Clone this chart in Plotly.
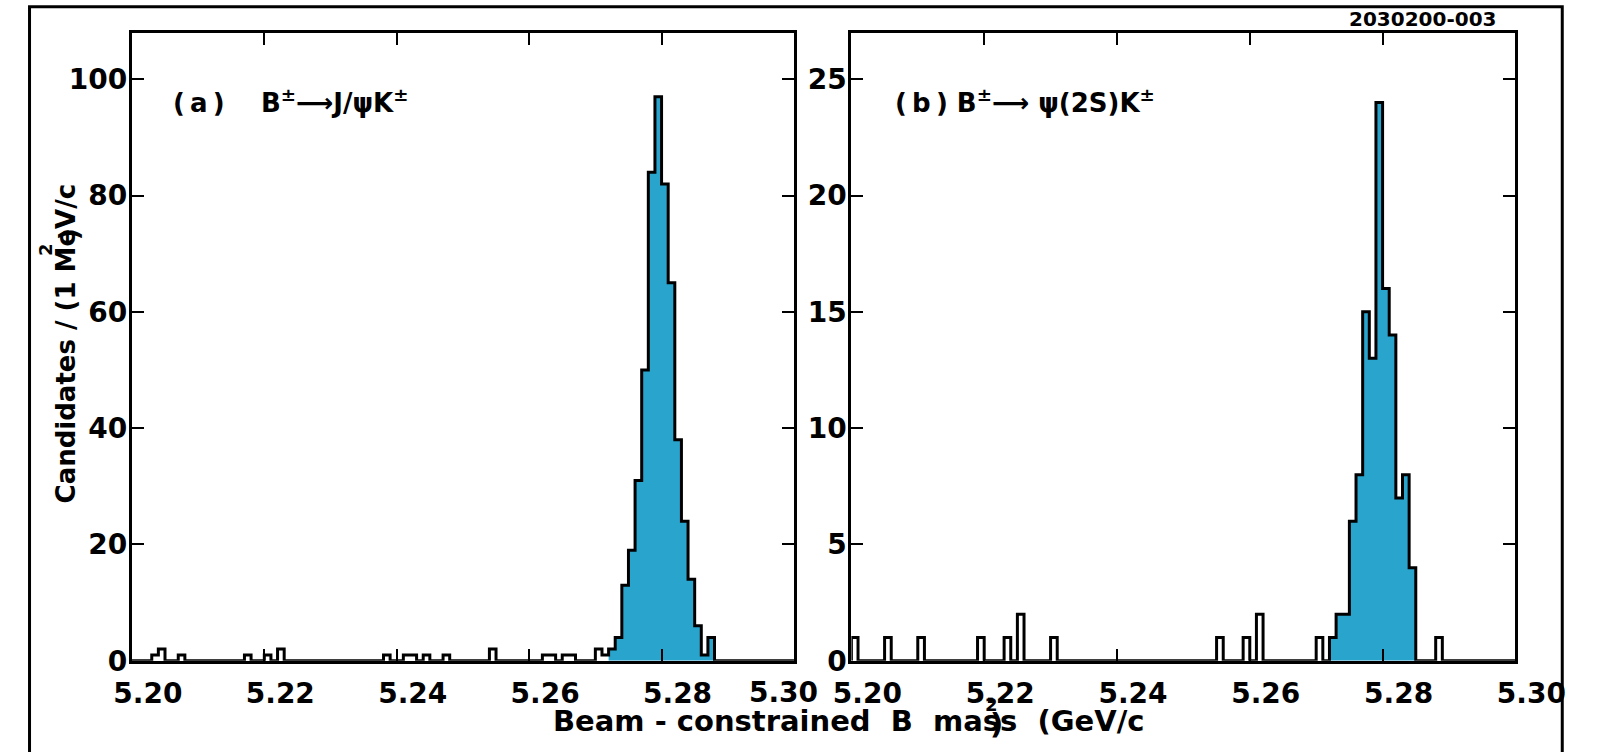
import numpy as np
import plotly.graph_objects as go

# ---- binning: 1 MeV/c^2 bins over 5.20-5.30 GeV/c^2 ----
MASS_MIN = 5.200
MASS_MAX = 5.300
BIN_W = 0.001
SIG_FIRST = 5.272   # first bin of the shaded signal region
SIG_LAST = 5.287    # last bin of the shaded signal region

# ---- panel (a): B± -> J/psi K± ----
a_side_mass = [5.203, 5.204, 5.207, 5.217, 5.220, 5.222, 5.238, 5.241,
               5.242, 5.244, 5.247, 5.254, 5.262, 5.263, 5.265, 5.266,
               5.270, 5.271]
a_side_counts = [1, 2, 1, 1, 1, 2, 1, 1,
                 1, 1, 1, 2, 1, 1, 1, 1,
                 2, 1]
a_sig_counts = [2, 4, 13, 19, 31, 50, 84, 97, 82, 65, 38, 24, 14, 6, 1, 4]

# ---- panel (b): B± -> psi(2S) K± ----
b_side_mass = [5.200, 5.205, 5.210, 5.219, 5.223, 5.225, 5.230, 5.255,
               5.259, 5.261, 5.270, 5.288]
b_side_counts = [1, 1, 1, 1, 1, 2, 1, 1,
                 1, 2, 1, 1]
b_sig_counts = [1, 2, 2, 6, 8, 15, 13, 24, 16, 14, 7, 8, 4, 0, 0, 0]

x_ticks = [5.20, 5.22, 5.24, 5.26, 5.28, 5.30]
x_ticktext = ["5.20", "5.22", "5.24", "5.26", "5.28", "5.30"]
a_yticks = [0, 20, 40, 60, 80, 100]
b_yticks = [0, 5, 10, 15, 20, 25]
a_ymax = 108
b_ymax = 27

FILL = "#29a4cd"
W, H = 1619, 752
FONT = "DejaVu Sans"


def fill_counts(side_mass, side_counts, sig_counts):
    nbins = int(round((MASS_MAX - MASS_MIN) / BIN_W))
    counts = np.zeros(nbins)
    for m, c in zip(side_mass, side_counts):
        counts[int(round((m - MASS_MIN) / BIN_W))] = c
    i0 = int(round((SIG_FIRST - MASS_MIN) / BIN_W))
    counts[i0:i0 + len(sig_counts)] = sig_counts
    return counts


def hist_traces(counts, xa, ya):
    edges = MASS_MIN + BIN_W * np.arange(len(counts) + 1)
    i0 = int(round((SIG_FIRST - MASS_MIN) / BIN_W))
    i1 = int(round((SIG_LAST - MASS_MIN) / BIN_W)) + 1
    # shaded signal region
    fx = list(edges[i0:i1 + 1])
    fy = list(counts[i0:i1]) + [0]
    shade = go.Scatter(x=fx, y=fy, mode="lines", line=dict(width=0, shape="hv"),
                       fill="tozeroy", fillcolor=FILL, hoverinfo="skip",
                       xaxis=xa, yaxis=ya, showlegend=False)
    # outline of the full histogram
    ox = [edges[0]] + list(edges)
    oy = [0] + list(counts) + [0]
    outline = go.Scatter(x=ox, y=oy, mode="lines",
                         line=dict(color="black", width=3, shape="hv"),
                         xaxis=xa, yaxis=ya, showlegend=False)
    return [shade, outline]


a_counts = fill_counts(a_side_mass, a_side_counts, a_sig_counts)
b_counts = fill_counts(b_side_mass, b_side_counts, b_sig_counts)

fig = go.Figure()
for tr in hist_traces(a_counts, "x", "y"):
    fig.add_trace(tr)
for tr in hist_traces(b_counts, "x2", "y2"):
    fig.add_trace(tr)

y_dom = [(H - 676) / H, (H - 33.5) / H]
tickfont = dict(family=FONT, size=28, color="black", weight="bold")
common_x = dict(range=[MASS_MIN, MASS_MAX], ticks="inside", ticklen=12, tickwidth=2,
                tickcolor="black", showline=True, linewidth=3, linecolor="black",
                mirror="ticks", showgrid=False, zeroline=False, tickfont=tickfont,
                ticklabelshift=16, ticklabelstandoff=6)
common_y = dict(ticks="inside", ticklen=12, tickwidth=2, tickcolor="black",
                showline=True, linewidth=3, linecolor="black", mirror="ticks",
                showgrid=False, zeroline=False, tickfont=tickfont, domain=y_dom,
                ticklabelstandoff=-4)

fig.update_layout(
    width=W, height=H,
    margin=dict(l=0, r=0, t=0, b=0),
    paper_bgcolor="white", plot_bgcolor="white",
    showlegend=False,
    xaxis=dict(domain=[118 / W, 810 / W], anchor="y",
               tickvals=x_ticks[:-1], ticktext=x_ticktext[:-1], **common_x),
    yaxis=dict(range=[0, a_ymax], tickvals=a_yticks, anchor="x", **common_y),
    xaxis2=dict(domain=[870 / W, 1564 / W], anchor="y2",
                tickvals=x_ticks, ticktext=x_ticktext, **common_x),
    yaxis2=dict(range=[0, b_ymax], tickvals=b_yticks, anchor="x2", **common_y),
)

bold = dict(family=FONT, color="black", weight="bold")
NB = "\u00a0"
TH = "\u2009"
ann = []
# last label of the left panel, pulled in toward the frame
ann.append(dict(x=x_ticks[-1], y=0, xref="x", yref="y", text=x_ticktext[-1],
                showarrow=False, xanchor="center", yanchor="top", xshift=-10, yshift=-13,
                font=dict(size=28, **bold)))
# panel labels
ann.append(dict(x=159 / W, y=1 - 103 / H, xref="paper", yref="paper",
                text="(" + TH + "a" + TH + ")" + NB * 4 + "B<sup>±</sup>⟶J/ψK<sup>±</sup>",
                showarrow=False, xanchor="left", yanchor="middle",
                font=dict(size=26, **bold)))
ann.append(dict(x=914 / W, y=1 - 103 / H, xref="paper", yref="paper",
                text="(" + TH + "b" + TH + ")" + NB + "B<sup>±</sup>⟶ ψ(2S)K<sup>±</sup>",
                showarrow=False, xanchor="left", yanchor="middle",
                font=dict(size=26, **bold)))
# figure id
ann.append(dict(x=1546 / W, y=1 - 19 / H, xref="paper", yref="paper",
                text="2030200-003", showarrow=False, xanchor="right", yanchor="middle",
                font=dict(size=20, **bold)))
# y-axis title
ann.append(dict(x=49 / W, y=1 - 351.5 / H, xref="paper", yref="paper",
                text="Candidates / (1 MeV/c", textangle=-90, showarrow=False,
                xanchor="center", yanchor="middle", font=dict(size=26, **bold)))
ann.append(dict(x=27 / W, y=1 - 255 / H, xref="paper", yref="paper",
                text="2", textangle=-90, showarrow=False,
                xanchor="center", yanchor="middle", font=dict(size=18, **bold)))
ann.append(dict(x=52 / W, y=1 - 240 / H, xref="paper", yref="paper",
                text=")", textangle=-90, showarrow=False,
                xanchor="center", yanchor="middle", font=dict(size=26, **bold)))
# x-axis title
ann.append(dict(x=556 / W, y=1 - 738 / H, xref="paper", yref="paper",
                text="Beam - constrained" + NB * 2 + "B" + NB * 2 + "mass" + NB * 2 + "(GeV/c",
                showarrow=False, xanchor="left", yanchor="middle",
                font=dict(size=29, **bold)))
ann.append(dict(x=1016 / W, y=1 - 721 / H, xref="paper", yref="paper",
                text="2", showarrow=False, xanchor="center", yanchor="middle",
                font=dict(size=18, **bold)))
ann.append(dict(x=1022 / W, y=1 - 741 / H, xref="paper", yref="paper",
                text=")", showarrow=False, xanchor="center", yanchor="middle",
                font=dict(size=29, **bold)))
fig.update_layout(annotations=ann)

# outer frame around the whole figure
fig.add_shape(type="rect", xref="paper", yref="paper",
              x0=11 / W, x1=1613 / W, y0=-0.05, y1=1 - 7 / H,
              line=dict(color="black", width=3), fillcolor="rgba(0,0,0,0)")

fig.write_html("out.html",
               post_script="document.body.style.margin='0';"
                           "document.documentElement.style.overflow='hidden';")
